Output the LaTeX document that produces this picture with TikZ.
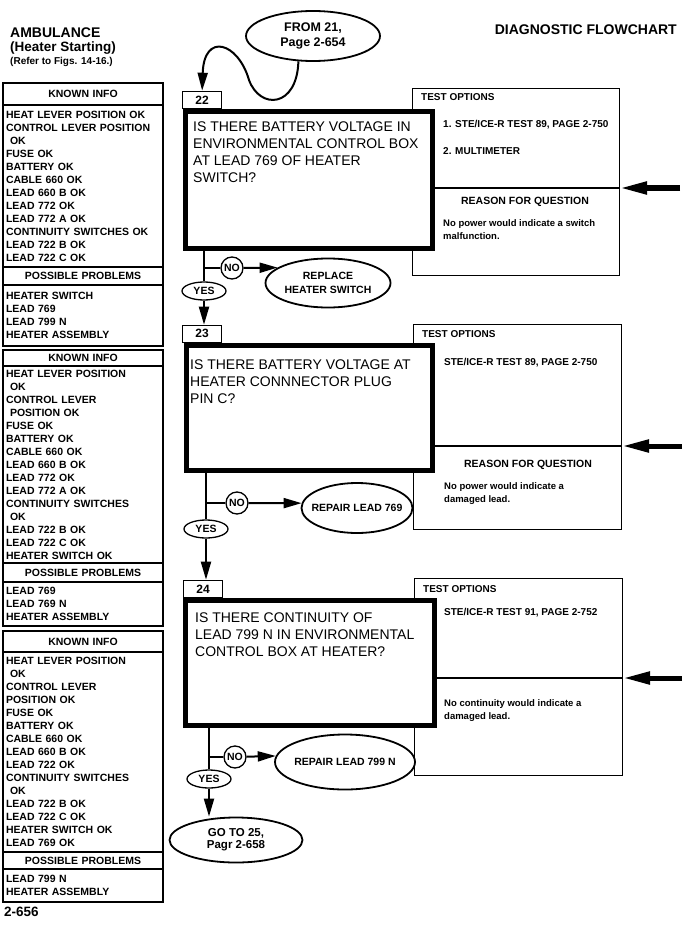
\documentclass[tikz,border=0pt]{standalone}
\usepackage{fontspec}
\setmainfont{Liberation Sans}
\usepackage{xcolor}
\definecolor{cInk}{HTML}{000000}
\usepackage{tikz}
\usetikzlibrary{positioning,arrows.meta,shapes.geometric}
\tikzset{
  node-q/.style={draw=cInk,line width=5pt,fill=white,anchor=north west},
  node-qtext/.style={anchor=north west,inner sep=0pt,align=left,
    font=\fontsize{14}{17}\selectfont},
  node-tab/.style={draw=cInk,line width=1.3pt,minimum width=39,minimum height=17,
    inner sep=0pt,font=\fontsize{12}{14}\selectfont\bfseries},
  node-opt/.style={draw=cInk,line width=1.3pt,anchor=north west},
  node-small/.style={inner sep=0pt,font=\fontsize{10}{13}\selectfont\bfseries},
  node-reason/.style={anchor=north west,inner sep=0pt,align=left,
    font=\fontsize{9.5}{13}\selectfont\bfseries},
  node-title/.style={anchor=west,inner sep=0pt},
  % left column: KNOWN INFO / POSSIBLE PROBLEMS share the same frame
  node-head/.style={draw=cInk,line width=1.3pt,outer sep=0pt,minimum width=160,
    text width=154,inner xsep=3pt,align=center,font=\fontsize{10.5}{13}\selectfont\bfseries},
  node-list/.style={node-head,align=left,inner ysep=2pt},
  node-end/.style={draw=cInk,ellipse,line width=1.8pt,inner sep=0pt,align=center,
    font=\fontsize{10.5}{14}\selectfont\bfseries},
  node-yes/.style={draw=cInk,ellipse,line width=1.3pt,minimum width=44,minimum height=18,
    inner sep=0pt,font=\fontsize{10.5}{12}\selectfont\bfseries},
  node-no/.style={draw=cInk,circle,line width=1.3pt,minimum size=22,inner sep=0pt,
    font=\fontsize{10.5}{12}\selectfont\bfseries},
  line-flow/.style={draw=cInk,line width=2pt},
  line-sep/.style={draw=cInk,line width=2pt},
  arrow/.style={-{Triangle[length=18pt,width=10pt]},line-flow},
  arrow-in/.style={-{Triangle[length=27pt,width=12pt]},draw=cInk,line width=5pt},
}

\begin{document}
\begin{tikzpicture}[x=1pt,y=-1pt]
  \useasboundingbox (0,0) rectangle (700,928);
  \node[node-title,font=\fontsize{14}{16}\selectfont\bfseries] (amb) at (10,33) {AMBULANCE};
  \node[node-title,font=\fontsize{13.5}{16}\selectfont\bfseries] (sub) at (10,48) {(Heater Starting)};
  \node[node-title,font=\fontsize{10}{12}\selectfont\bfseries] (figs) at (10,62) {(Refer to Figs. 14-16.)};
  \node[node-title,anchor=east,font=\fontsize{14}{16}\selectfont\bfseries] (diag) at (677,30) {DIAGNOSTIC FLOWCHART};
  \node[node-title,font=\fontsize{13.5}{16}\selectfont\bfseries] (pg) at (4,912) {2-656};

  \node[node-head,anchor=north west,minimum height=22] (kA) at (3,83) {KNOWN INFO};
  \node[node-list,below=0pt of kA,minimum height=162] (kAl) {HEAT LEVER POSITION OK\\CONTROL LEVER POSITION\\\hspace*{4pt}OK\\FUSE OK\\BATTERY OK\\CABLE 660 OK\\LEAD 660 B OK\\LEAD 772 OK\\LEAD 772 A OK\\CONTINUITY SWITCHES OK\\LEAD 722 B OK\\LEAD 722 C OK};
  \node[node-head,below=0pt of kAl,minimum height=18] (pA) {POSSIBLE PROBLEMS};
  \node[node-list,below=0pt of pA,minimum height=61] (pAl) {HEATER SWITCH\\LEAD 769\\LEAD 799 N\\HEATER ASSEMBLY};

  \node[node-head,below=4pt of pAl,minimum height=16] (kB) {KNOWN INFO};
  \node[node-list,below=0pt of kB,minimum height=197] (kBl) {HEAT LEVER POSITION\\\hspace*{4pt}OK\\CONTROL LEVER\\\hspace*{4pt}POSITION OK\\FUSE OK\\BATTERY OK\\CABLE 660 OK\\LEAD 660 B OK\\LEAD 772 OK\\LEAD 772 A OK\\CONTINUITY SWITCHES\\\hspace*{4pt}OK\\LEAD 722 B OK\\LEAD 722 C OK\\HEATER SWITCH OK};
  \node[node-head,below=0pt of kBl,minimum height=19] (pB) {POSSIBLE PROBLEMS};
  \node[node-list,below=0pt of pB,minimum height=44] (pBl) {LEAD 769\\LEAD 769 N\\HEATER ASSEMBLY};

  \node[node-head,below=5pt of pBl,minimum height=21] (kC) {KNOWN INFO};
  \node[node-list,below=0pt of kC,minimum height=200] (kCl) {HEAT LEVER POSITION\\\hspace*{4pt}OK\\CONTROL LEVER\\POSITION OK\\FUSE OK\\BATTERY OK\\CABLE 660 OK\\LEAD 660 B OK\\LEAD 722 OK\\CONTINUITY SWITCHES\\\hspace*{4pt}OK\\LEAD 722 B OK\\LEAD 722 C OK\\HEATER SWITCH OK\\LEAD 769 OK};
  \node[node-head,below=0pt of kCl,minimum height=17] (pC) {POSSIBLE PROBLEMS};
  \node[node-list,below=0pt of pC,minimum height=33] (pCl) {LEAD 799 N\\HEATER ASSEMBLY};

  \node[node-end,minimum width=134,minimum height=50,font=\fontsize{12.5}{15}\selectfont\bfseries] (from21) at (313,36) {FROM 21,\\Page 2-654};

  \node[node-opt,minimum width=206.7,minimum height=186.7] (opt22) at (412,88) {};
  \node[node-q,minimum width=247,minimum height=137] (q22) at (183,109) {};
  \node[node-tab,above right=0pt and -1pt of q22.north west] (tab22) {22};
  \node[node-qtext,below right=13pt and 10pt of q22.north west] (q22t) {IS THERE BATTERY VOLTAGE IN\\ENVIRONMENTAL CONTROL BOX\\AT LEAD 769 OF HEATER\\SWITCH?};
  \node[node-small,below right=5pt and 9pt of opt22.north west] (to22) {TEST OPTIONS};
  \node[node-small,anchor=west] (o22a) at (443,125) {1. STE/ICE-R TEST 89, PAGE 2-750};
  \node[node-small,anchor=west] (o22b) at (443,151) {2. MULTIMETER};
  \node[node-small,font=\fontsize{10.5}{13}\selectfont\bfseries] (r22) at (525,202) {REASON FOR QUESTION};
  \node[node-reason] (w22) at (443,219) {No power would indicate a switch\\malfunction.};
  \coordinate (in22) at (680,188);
  \draw[line-sep] (in22 -| q22.east) -- (in22 -| opt22.east);
  \draw[arrow-in] (in22) -- (in22 -| opt22.east);
  \draw[arrow] (from21.240) .. controls (297,108) and (260,110) .. (249,80) .. controls (238,42) and (204,32) .. (tab22.north);

  \node[node-yes] (yes22) at (204,291) {YES};
  \node[node-no] (no22) at (232,268) {NO};
  \node[node-end,minimum width=125,minimum height=49] (fix22) at (328,283) {REPLACE\\HEATER SWITCH};
  \draw[line-flow] (q22.south -| yes22) -- (yes22);
  \draw[line-flow] (no22) -- (no22 -| yes22);
  \draw[arrow] (no22) -- (fix22.163);

  \node[node-opt,minimum width=207.7,minimum height=204.7] (opt23) at (413,324) {};
  \node[node-q,minimum width=246,minimum height=125] (q23) at (184,343) {};
  \node[node-tab,above right=0pt and -2pt of q23.north west] (tab23) {23};
  \node[node-qtext,below right=17pt and 6pt of q23.north west] (q23t) {IS THERE BATTERY VOLTAGE AT\\HEATER CONNNECTOR PLUG\\PIN C?};
  \node[node-small,below right=6pt and 9pt of opt23.north west] (to23) {TEST OPTIONS};
  \node[node-small,anchor=west] (o23a) at (444,363) {STE/ICE-R TEST 89, PAGE 2-750};
  \node[node-small,font=\fontsize{10.5}{13}\selectfont\bfseries] (r23) at (528,465) {REASON FOR QUESTION};
  \node[node-reason] (w23) at (444,482) {No power would indicate a\\damaged lead.};
  \coordinate (in23) at (682,446);
  \draw[line-sep] (in23 -| q23.east) -- (in23 -| opt23.east);
  \draw[arrow-in] (in23) -- (in23 -| opt23.east);
  \draw[arrow] (yes22) -- (yes22 |- tab23.north);

  \node[node-yes] (yes23) at (206,529) {YES};
  \node[node-no] (no23) at (237,503) {NO};
  \node[node-end,minimum width=111,minimum height=50,inner xsep=-8pt] (fix23) at (357,508) {REPAIR LEAD 769};
  \draw[line-flow] (q23.south -| yes23) -- (yes23);
  \draw[line-flow] (no23) -- (no23 -| yes23);
  \draw[arrow] (no23) -- (fix23.175);

  \node[node-opt,minimum width=207.7,minimum height=196.7] (opt24) at (414,578) {};
  \node[node-q,minimum width=249,minimum height=125] (q24) at (183,598) {};
  \node[node-tab,above right=0pt and 0pt of q24.north west] (tab24) {24};
  \node[node-qtext,below right=15pt and 12pt of q24.north west] (q24t) {IS THERE CONTINUITY OF\\LEAD 799 N IN ENVIRONMENTAL\\CONTROL BOX AT HEATER?};
  \node[node-small,below right=7pt and 9pt of opt24.north west] (to24) {TEST OPTIONS};
  \node[node-small,anchor=west] (o24a) at (444,613) {STE/ICE-R TEST 91, PAGE 2-752};
  \node[node-reason] (w24) at (444,699) {No continuity would indicate a\\damaged lead.};
  \coordinate (in24) at (682,678);
  \draw[line-sep] (in24 -| q24.east) -- (in24 -| opt24.east);
  \draw[arrow-in] (in24) -- (in24 -| opt24.east);
  \draw[arrow] (yes23) -- (yes23 |- tab24.north);

  \node[node-yes] (yes24) at (209,779) {YES};
  \node[node-no] (no24) at (235,757) {NO};
  \node[node-end,minimum width=140,minimum height=55,inner xsep=-2pt] (fix24) at (345,762) {REPAIR LEAD 799 N};
  \node[node-end,minimum width=133,minimum height=45,font=\fontsize{11.5}{12}\selectfont\bfseries] (go25) at (236,840) {GO TO 25,\\Pagr 2-658};
  \draw[line-flow] (q24.south -| yes24) -- (yes24);
  \draw[line-flow] (no24) -- (no24 -| yes24);
  \draw[arrow] (no24) -- (fix24.175);
  \draw[arrow] (yes24) -- (yes24 |- go25.north);
\end{tikzpicture}
\end{document}
